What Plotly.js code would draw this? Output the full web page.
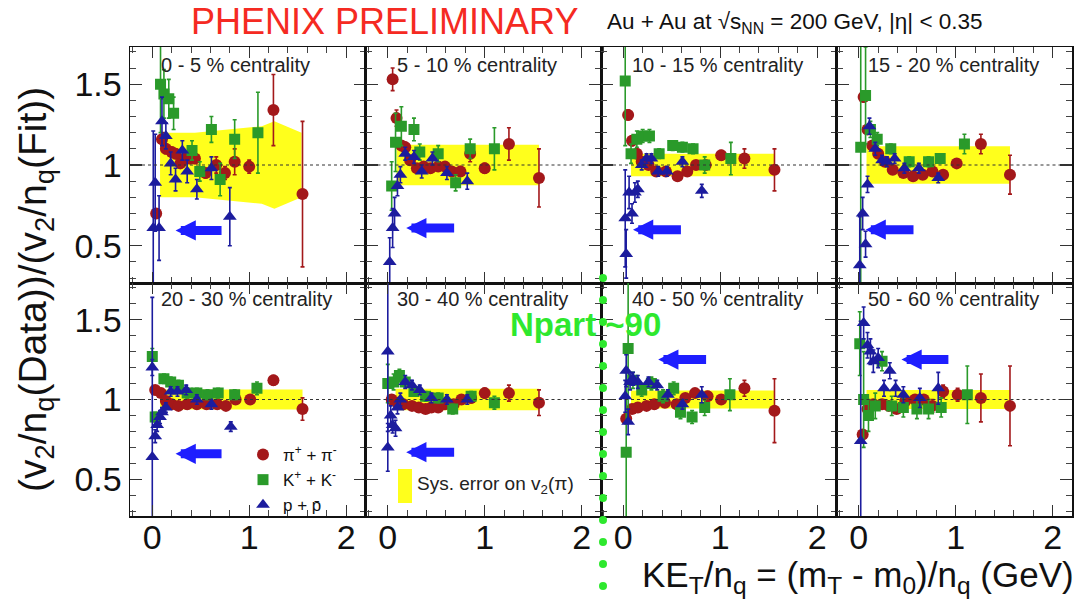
<!DOCTYPE html>
<html>
<head>
<meta charset="utf-8">
<script src="https://cdn.plot.ly/plotly-3.0.1.min.js"></script>
<style>html,body{margin:0;padding:0;background:#fff;}#chart{width:1083px;height:606px;}</style>
</head>
<body>
<div id="chart"></div>
<script>
// ---------------- DATA ----------------
const centralities = ["0 - 5 % centrality", "5 - 10 % centrality", "10 - 15 % centrality", "15 - 20 % centrality",
                      "20 - 30 % centrality", "30 - 40 % centrality", "40 - 50 % centrality", "50 - 60 % centrality"];

const pionX = [
  [0.04,0.10,0.14,0.20,0.24,0.29,0.34,0.39,0.44,0.55,0.66,0.75,0.85,1.00,1.25,1.55],
  [0.05,0.09,0.14,0.18,0.23,0.30,0.37,0.44,0.52,0.59,0.66,0.75,0.85,1.00,1.25,1.56],
  [0.05,0.09,0.14,0.19,0.26,0.34,0.44,0.56,0.66,0.75,0.85,1.01,1.25,1.56],
  [0.05,0.09,0.14,0.20,0.27,0.35,0.46,0.56,0.66,0.76,0.87,1.01,1.26,1.56],
  [0.03,0.09,0.14,0.20,0.27,0.36,0.46,0.56,0.67,0.76,0.86,1.01,1.25,1.55],
  [0.04,0.10,0.16,0.25,0.32,0.39,0.45,0.52,0.59,0.68,0.76,0.86,1.00,1.25,1.56],
  [0.03,0.09,0.15,0.24,0.32,0.43,0.55,0.64,0.74,0.87,1.01,1.25,1.56],
  [0.04,0.09,0.15,0.24,0.31,0.39,0.48,0.58,0.67,0.76,0.87,1.02,1.26,1.56]
];
const pionY = [
  [0.70,1.16,1.10,1.08,1.07,1.01,1.04,1.04,1.04,0.95,1.00,0.95,1.02,0.99,1.34,0.82],
  [1.53,1.29,1.12,1.11,1.03,0.98,0.99,0.98,0.99,0.99,0.96,0.96,1.07,0.98,1.13,0.92],
  [1.31,1.15,1.07,1.02,1.00,0.96,0.96,0.93,0.96,1.00,1.00,1.06,1.04,0.97],
  [1.42,1.22,1.12,1.07,1.02,0.97,0.95,0.93,0.94,0.96,0.94,1.01,1.13,0.94],
  [1.06,1.04,0.99,0.97,0.96,0.97,0.97,0.97,0.97,0.96,1.00,1.00,1.12,0.94],
  [1.00,0.98,0.97,0.96,0.95,0.94,0.95,0.95,0.97,0.97,1.00,1.01,1.04,1.04,0.98],
  [0.88,0.94,0.95,0.96,0.97,0.98,0.97,1.01,1.04,1.02,1.00,1.07,0.93],
  [0.78,0.94,0.97,0.97,0.96,0.94,0.99,1.00,1.00,0.96,1.05,1.03,1.01,0.96]
];
const pionErr = [
  [0.02,0.04,0.03,0.03,0.03,0.03,0.03,0.03,0.03,0.03,0.05,0.04,0.08,0.04,0.22,0.45],
  [0.07,0.05,0.03,0.03,0.02,0.02,0.02,0.02,0.02,0.02,0.02,0.03,0.05,0.03,0.10,0.18],
  [0.03,0.03,0.02,0.02,0.02,0.02,0.02,0.02,0.02,0.02,0.02,0.03,0.06,0.13],
  [0.03,0.02,0.02,0.02,0.02,0.02,0.02,0.02,0.02,0.02,0.02,0.02,0.06,0.12],
  [0.02,0.02,0.02,0.02,0.02,0.02,0.02,0.02,0.02,0.02,0.02,0.02,0.03,0.07],
  [0.02,0.02,0.02,0.02,0.02,0.02,0.02,0.02,0.02,0.02,0.02,0.03,0.03,0.05,0.08],
  [0.03,0.02,0.02,0.02,0.02,0.02,0.02,0.02,0.02,0.03,0.03,0.05,0.20],
  [0.03,0.03,0.02,0.02,0.02,0.02,0.02,0.03,0.03,0.04,0.04,0.04,0.15,0.25]
];

const kaonX = [
  [0.085,0.12,0.17,0.22,0.41,0.49,0.61,0.70,0.85,1.09],
  [0.04,0.08,0.14,0.27,0.33,0.52,0.70,0.85,1.10],
  [0.02,0.08,0.14,0.20,0.27,0.37,0.51,0.61,0.72,0.84,1.11],
  [0.02,0.07,0.12,0.19,0.33,0.52,0.72,0.84,1.09],
  [0.00,0.03,0.12,0.19,0.27,0.36,0.46,0.57,0.68,0.85,1.08],
  [0.00,0.06,0.12,0.18,0.27,0.39,0.52,0.67,0.86,1.10],
  [0.03,0.05,0.10,0.19,0.29,0.41,0.52,0.59,0.71,0.84,1.10],
  [0.01,0.05,0.10,0.17,0.24,0.34,0.46,0.60,0.72,0.85,1.12]
];
const kaonY = [
  [1.50,1.44,1.41,1.32,1.09,0.96,1.22,0.91,1.16,1.20],
  [0.87,1.14,1.24,1.22,1.08,1.07,0.89,1.10,1.10],
  [1.52,1.07,1.16,1.18,1.18,1.07,1.12,1.11,1.10,1.00,1.04],
  [1.11,1.43,1.22,1.16,1.10,1.02,1.02,1.04,1.13],
  [1.27,0.89,1.13,1.11,1.09,1.04,1.04,1.03,1.04,1.03,1.07],
  [1.10,1.11,1.15,1.11,1.05,1.02,1.01,0.94,1.02,0.98],
  [0.67,1.32,1.12,1.06,1.10,1.02,1.07,0.92,0.89,0.95,1.03],
  [1.35,1.00,0.90,0.96,1.24,0.96,0.95,0.94,0.94,0.95,1.03]
];
const kaonErr = [
  [0.30,0.15,0.12,0.10,0.06,0.06,0.08,0.10,0.12,0.25],
  [0.15,0.18,0.12,0.07,0.05,0.05,0.05,0.06,0.13],
  [0.40,0.06,0.05,0.04,0.04,0.03,0.03,0.03,0.03,0.05,0.10],
  [0.90,0.30,0.05,0.04,0.03,0.03,0.03,0.03,0.06],
  [0.05,0.03,0.03,0.03,0.03,0.03,0.03,0.03,0.03,0.03,0.04],
  [0.12,0.05,0.04,0.03,0.03,0.03,0.03,0.03,0.03,0.04],
  [0.50,0.45,0.05,0.04,0.04,0.04,0.04,0.04,0.04,0.05,0.10],
  [0.20,0.30,0.10,0.08,0.06,0.06,0.06,0.06,0.06,0.06,0.18]
];

const protonX = [
  [0.01,0.03,0.07,0.10,0.14,0.19,0.24,0.31,0.36,0.46,0.61,0.80],
  [0.02,0.05,0.07,0.10,0.13,0.18,0.27,0.35,0.46,0.61,0.82],
  [0.02,0.03,0.06,0.09,0.12,0.15,0.19,0.24,0.29,0.36,0.45,0.61,0.81],
  [0.01,0.04,0.07,0.09,0.11,0.17,0.24,0.29,0.37,0.47,0.62,0.82],
  [0.00,0.00,0.03,0.05,0.08,0.10,0.14,0.19,0.26,0.35,0.46,0.61,0.81],
  [0.00,0.00,0.03,0.05,0.08,0.10,0.13,0.18,0.25,0.33,0.45,0.61,0.82],
  [0.02,0.03,0.05,0.07,0.10,0.15,0.26,0.35,0.46,0.61,0.81],
  [0.02,0.05,0.09,0.12,0.15,0.20,0.26,0.32,0.38,0.46,0.63,0.82]
];
const protonY = [
  [0.61,0.89,0.61,1.27,1.18,1.01,0.91,1.09,0.96,0.85,0.98,0.68],
  [0.40,0.61,0.70,0.87,0.94,1.07,1.05,0.96,1.04,0.95,0.90],
  [0.67,0.45,0.83,0.70,0.83,0.85,1.00,1.04,1.04,0.96,0.96,1.02,0.84],
  [0.38,0.70,0.51,0.88,1.24,1.10,1.03,1.02,1.04,0.98,0.98,0.92],
  [0.64,1.20,0.77,0.84,0.89,0.92,0.95,1.05,1.05,1.06,1.00,0.97,0.83],
  [0.70,1.30,0.90,0.84,0.82,0.95,1.00,1.11,1.09,1.06,1.01,1.00,1.00],
  [1.02,1.18,0.86,1.11,1.13,1.11,1.11,1.09,1.03,0.97,1.03],
  [0.74,1.48,1.34,1.30,1.24,1.26,1.07,1.18,1.07,1.03,1.01,1.07]
];
const protonErr = [
  [0.60,0.30,0.20,0.15,0.08,0.07,0.07,0.06,0.07,0.06,0.07,0.18],
  [0.15,0.12,0.10,0.06,0.05,0.04,0.04,0.04,0.04,0.04,0.05],
  [0.30,0.15,0.10,0.06,0.06,0.05,0.03,0.03,0.03,0.03,0.03,0.03,0.04],
  [0.30,0.10,0.08,0.05,0.05,0.04,0.03,0.03,0.03,0.03,0.03,0.03],
  [1.00,0.05,0.04,0.04,0.04,0.03,0.03,0.03,0.03,0.03,0.03,0.03,0.03],
  [0.15,0.50,0.06,0.05,0.05,0.04,0.04,0.04,0.03,0.03,0.03,0.03,0.03],
  [0.10,0.10,0.08,0.05,0.04,0.04,0.03,0.03,0.03,0.03,0.05],
  [0.75,0.10,0.08,0.08,0.07,0.06,0.05,0.05,0.05,0.05,0.06,0.10]
];

// systematic error band on v2(pi): x positions and half widths
const bandX = [
  [0.08,0.44,0.78,1.13,1.26,1.54],
  [0.09,0.50,1.00,1.56],
  [0.08,0.50,1.00,1.56],
  [0.08,0.50,1.00,1.56],
  [0.08,0.50,1.00,1.55],
  [0.08,0.50,1.00,1.56],
  [0.08,0.50,1.00,1.56],
  [0.08,0.50,1.00,1.56]
];
const bandHalf = [
  [0.20,0.20,0.22,0.24,0.27,0.20],
  [0.125,0.125,0.125,0.125],
  [0.07,0.07,0.07,0.07],
  [0.116,0.116,0.116,0.116],
  [0.063,0.063,0.063,0.063],
  [0.068,0.068,0.068,0.068],
  [0.056,0.056,0.056,0.056],
  [0.06,0.06,0.06,0.06]
];

// blue arrows: head x, tail x, y in data units of each panel
const arrowHeadX = [0.24,0.19,0.10,0.07,0.24,0.19,0.36,0.44];
const arrowTailX = [0.73,0.70,0.61,0.58,0.73,0.70,0.87,0.94];
const arrowY     = [0.595,0.61,0.60,0.60,0.66,0.67,1.25,1.25];

const xTicks = [0,1,2];
const yTicks = [0.5,1,1.5];
const yTickText = ["0.5","1","1.5"];

// ---------------- LAYOUT ----------------
const W = 1083, H = 606;
const FONT = "Liberation Sans, Arial, Helvetica, sans-serif";
const RED = "#a3181a", GREEN = "#2a9a2a", BLUE = "#1c1c9e";
const colLeft = c => 130 + 235.5 * c;
const rowTop = [47, 283], rowBot = [283, 516];
const px = p => p / W, py = p => 1 - p / H;

const traces = [];
const layout = {
  width: W, height: H,
  margin: {l: 0, r: 0, t: 0, b: 0},
  paper_bgcolor: "#fff", plot_bgcolor: "#fff",
  font: {family: FONT, color: "#000"},
  showlegend: true,
  legend: {x: px(243), y: py(437), xanchor: "left", yanchor: "top",
           bgcolor: "rgba(0,0,0,0)", font: {size: 17, family: FONT, color: "#111"},
           tracegroupgap: 0, itemwidth: 30, traceorder: "normal"},
  shapes: [], annotations: []
};

for (let k = 0; k < 8; k++) {
  const row = Math.floor(k / 4), col = k % 4;
  const sfx = k === 0 ? "" : String(k + 1);
  const xa = "x" + sfx, ya = "y" + sfx;
  layout["xaxis" + sfx] = {
    domain: [px(colLeft(col)), px(colLeft(col) + 235.5)],
    anchor: ya, range: [-0.23, 2.2], showgrid: false, zeroline: false,
    showline: true, linecolor: "#111", linewidth: 1.5, mirror: "allticks",
    ticks: "inside", ticklen: 11, tickwidth: 1.2, tickcolor: "#333",
    tickmode: "array", tickvals: xTicks, ticktext: xTicks.map(String),
    showticklabels: row === 1, ticklabelstandoff: -9,
    tickfont: {size: 34, family: FONT, color: "#111"},
    minor: {dtick: 0.2, ticklen: 6, tickwidth: 1, tickcolor: "#444", ticks: "inside", showgrid: false},
    fixedrange: true
  };
  layout["yaxis" + sfx] = {
    domain: [py(rowBot[row]), py(rowTop[row])],
    anchor: xa, range: [0.27, 1.73], showgrid: false, zeroline: false,
    showline: true, linecolor: "#111", linewidth: 1.5, mirror: "allticks",
    ticks: "inside", ticklen: 12, tickwidth: 1.2, tickcolor: "#333",
    tickmode: "array", tickvals: yTicks, ticktext: yTickText,
    showticklabels: col === 0, tickfont: {size: 34, family: FONT, color: "#111"},
    minor: {dtick: 0.1, ticklen: 6, tickwidth: 1, tickcolor: "#444", ticks: "inside", showgrid: false},
    fixedrange: true
  };

  // sys error band
  const bx = bandX[k], bh = bandHalf[k];
  traces.push({
    type: "scatter", mode: "lines", xaxis: xa, yaxis: ya,
    x: bx.concat(bx.slice().reverse()),
    y: bh.map(h => 1 + h).concat(bh.map(h => 1 - h).reverse()),
    fill: "toself", fillcolor: "#ffff1c", line: {width: 0, color: "#ffff1c"},
    showlegend: false, hoverinfo: "skip"
  });

  // reference line at 1
  layout.shapes.push({type: "line", xref: xa + " domain", yref: ya, x0: 0, x1: 1, y0: 1, y1: 1,
                      line: {color: "#333", width: 1, dash: "3px,3px"}, layer: "above"});

  const species = [
    {name: "π<sup>+</sup> + π<sup>-</sup>", X: pionX, Y: pionY, E: pionErr, color: RED, symbol: "circle", size: 12},
    {name: "K<sup>+</sup> + K<sup>-</sup>", X: kaonX, Y: kaonY, E: kaonErr, color: GREEN, symbol: "square", size: 11},
    {name: "p + p\u0304", X: protonX, Y: protonY, E: protonErr, color: BLUE, symbol: "triangle-up", size: 12}
  ];
  species.forEach(s => {
    traces.push({
      type: "scatter", mode: "markers", xaxis: xa, yaxis: ya,
      x: s.X[k], y: s.Y[k], name: s.name, legendgroup: s.name,
      showlegend: k === 0,
      marker: {color: s.color, symbol: s.symbol, size: s.size, line: {width: 0}},
      error_y: {type: "data", array: s.E[k], visible: true, color: s.color, thickness: 1.6, width: 2},
      cliponaxis: true, hoverinfo: "skip"
    });
  });

  // centrality label
  layout.annotations.push({
    xref: "paper", yref: "paper", x: px(colLeft(col) + 29), y: py(row === 0 ? 65 : 299),
    xanchor: "left", yanchor: "middle", showarrow: false,
    text: centralities[k], font: {size: 20, family: FONT, color: "#222"}
  });

  // blue arrow
  layout.annotations.push({
    xref: xa, yref: ya, axref: xa, ayref: ya,
    x: arrowHeadX[k], y: arrowY[k], ax: arrowTailX[k], ay: arrowY[k],
    text: "", showarrow: true, arrowhead: 2, arrowsize: 0.45, arrowwidth: 9,
    arrowcolor: "#1e1eff", standoff: 0, startstandoff: 0
  });
}

// Npart ~90 dotted green line
for (let yy = 278; yy <= 590; yy += 22) {
  layout.shapes.push({type: "circle", xref: "paper", yref: "paper",
    x0: px(599), x1: px(607), y0: py(yy + 4), y1: py(yy - 4),
    fillcolor: "#2ee82e", line: {width: 0}, layer: "above"});
}
layout.annotations.push({xref: "paper", yref: "paper", x: px(585), y: py(324), xanchor: "center", yanchor: "middle",
  showarrow: false, text: "<b>Npart ~90</b>", font: {size: 33, family: FONT, color: "#2ee82e"}});

// sys error legend
layout.shapes.push({type: "rect", xref: "paper", yref: "paper", x0: px(398), x1: px(412), y0: py(503), y1: py(469),
  fillcolor: "#ffff1c", line: {width: 0}, layer: "above"});
layout.annotations.push({xref: "paper", yref: "paper", x: px(415), y: py(485), xanchor: "left", yanchor: "middle",
  showarrow: false, text: "Sys. error on v<sub>2</sub>(π)", font: {size: 19, family: FONT, color: "#222"}});

// titles
layout.annotations.push({xref: "paper", yref: "paper", x: px(384), y: py(21), xanchor: "center", yanchor: "middle",
  showarrow: false, text: "PHENIX PRELIMINARY", font: {size: 36, family: FONT, color: "#f52a22"}});
layout.annotations.push({xref: "paper", yref: "paper", x: px(795), y: py(23), xanchor: "center", yanchor: "middle",
  showarrow: false, text: "Au + Au at √s<sub>NN</sub> = 200 GeV, |η| < 0.35", font: {size: 22.5, family: FONT, color: "#111"}});
layout.annotations.push({xref: "paper", yref: "paper", x: px(1076), y: py(577), xanchor: "right", yanchor: "middle",
  showarrow: false, text: "KE<sub>T</sub>/n<sub>q</sub> = (m<sub>T</sub> - m<sub>0</sub>)/n<sub>q</sub> (GeV)",
  font: {size: 35, family: FONT, color: "#111"}});
layout.annotations.push({xref: "paper", yref: "paper", x: px(35), y: py(290), xanchor: "center", yanchor: "middle",
  textangle: -90, showarrow: false,
  text: "(v<sub>2</sub>/n<sub>q</sub>(Data))/(v<sub>2</sub>/n<sub>q</sub>(Fit))",
  font: {size: 39, family: FONT, color: "#111"}});

Plotly.newPlot("chart", traces, layout, {staticPlot: true, displayModeBar: false});
</script>
</body>
</html>
